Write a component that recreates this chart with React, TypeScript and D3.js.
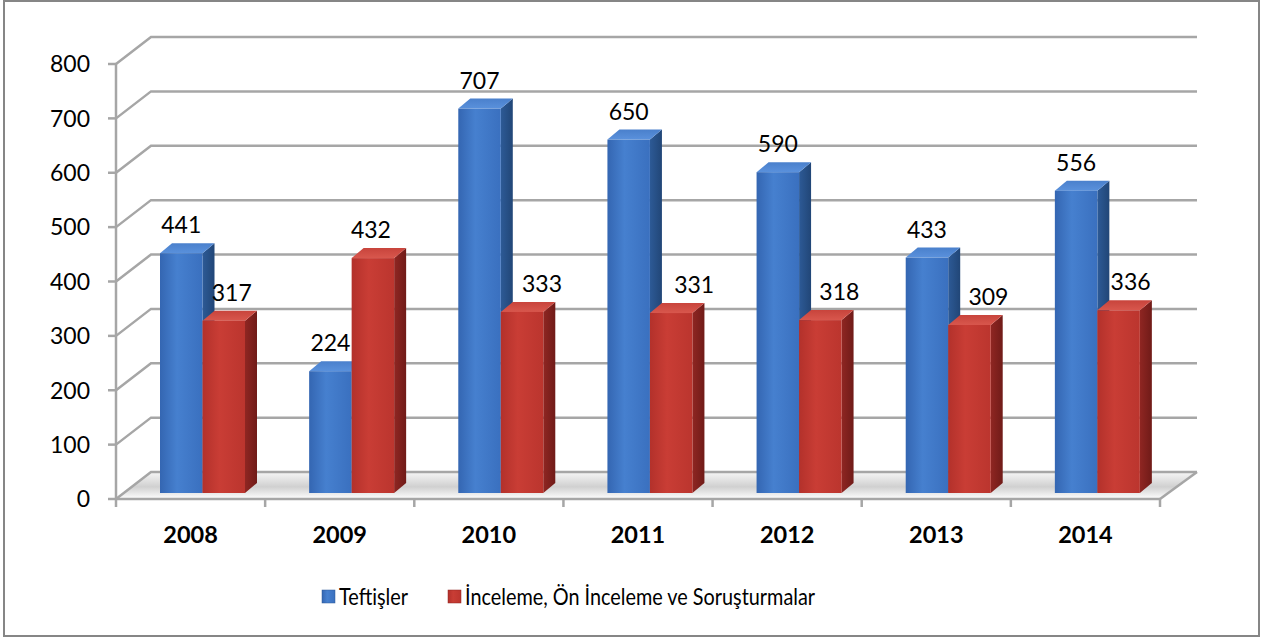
import React from "react";
import * as d3 from "d3";

const years = ["2008", "2009", "2010", "2011", "2012", "2013", "2014"];
const teftisler = [441, 224, 707, 650, 590, 433, 556];
const inceleme = [317, 432, 333, 331, 318, 309, 336];
const yTicks = [0, 100, 200, 300, 400, 500, 600, 700, 800];
const seriesNames = ["Teftişler", "İnceleme, Ön İnceleme ve Soruşturmalar"];

// horizontal nudge of the red value labels, as the original placed them
const redLabelNudge = [8, -2, 20, 23, 19, 19, 12];

const W = 1264;
const H = 639;
const axisLeft = 116;
const axisRight = 1160;
const frontY = 499;
const topY = 64;
const depthX = 35;
const depthY = 27;
const barBase = 493;
const barW = 42.5;
const sideX = 12;
const sideY = 10;
const font = "Lato, 'Open Sans', sans-serif";

const App = () => {
  const y = d3.scaleLinear().domain([0, 800]).range([frontY, topY]);
  const x = d3.scaleBand().domain(years).range([axisLeft, axisRight]);
  const bw = x.bandwidth();
  const barTop = (v: number) => barBase - (frontY - y(v));

  const bar = (x0: number, v: number, kind: "b" | "r") => {
    const x1 = x0 + barW;
    const yt = barTop(v);
    return (
      <g>
        <polygon
          points={`${x1},${yt} ${x1 + sideX},${yt - sideY} ${x1 + sideX},${barBase - sideY} ${x1},${barBase}`}
          fill={`url(#${kind}Side)`}
        />
        <polygon
          points={`${x0},${yt} ${x1},${yt} ${x1 + sideX},${yt - sideY} ${x0 + sideX},${yt - sideY}`}
          fill={`url(#${kind}Top)`}
        />
        <rect x={x0} y={yt} width={barW} height={barBase - yt} fill={`url(#${kind}Front)`} />
      </g>
    );
  };

  return (
    <svg width={W} height={H} style={{ position: "absolute", left: 0, top: 0 }} fontFamily={font}>
      <defs>
        <linearGradient id="bFront" x1="0" x2="1" y1="0" y2="0">
          <stop offset="0" stopColor="#3466b2" />
          <stop offset="0.4" stopColor="#4680cf" />
          <stop offset="1" stopColor="#3a70bf" />
        </linearGradient>
        <linearGradient id="bSide" x1="0" x2="1" y1="0" y2="0">
          <stop offset="0" stopColor="#2d5a96" />
          <stop offset="1" stopColor="#214677" />
        </linearGradient>
        <linearGradient id="bTop" x1="0" x2="0" y1="1" y2="0">
          <stop offset="0" stopColor="#5a91dc" />
          <stop offset="1" stopColor="#4a80cc" />
        </linearGradient>
        <linearGradient id="rFront" x1="0" x2="1" y1="0" y2="0">
          <stop offset="0" stopColor="#b3312b" />
          <stop offset="0.4" stopColor="#c93d35" />
          <stop offset="1" stopColor="#bb352e" />
        </linearGradient>
        <linearGradient id="rSide" x1="0" x2="1" y1="0" y2="0">
          <stop offset="0" stopColor="#8f2622" />
          <stop offset="1" stopColor="#701b18" />
        </linearGradient>
        <linearGradient id="rTop" x1="0" x2="0" y1="1" y2="0">
          <stop offset="0" stopColor="#d8574d" />
          <stop offset="1" stopColor="#c8443c" />
        </linearGradient>
        <linearGradient id="floor" x1="0" x2="0" y1="0" y2="1">
          <stop offset="0" stopColor="#f6f6f6" />
          <stop offset="0.55" stopColor="#d0d0d0" />
          <stop offset="1" stopColor="#ffffff" />
        </linearGradient>
      </defs>

      <rect x={4} y={1} width={1255} height={635} fill="#fff" stroke="#868686" strokeWidth={2} />

      {/* floor */}
      <polygon
        points={`${axisLeft},${frontY} ${axisRight},${frontY} ${axisRight + depthX},${frontY - depthY} ${axisLeft + depthX},${frontY - depthY}`}
        fill="url(#floor)"
      />

      {/* gridlines: side wall + back wall */}
      {yTicks.map((t) => (
        <polyline
          key={t}
          points={`${axisLeft},${y(t)} ${axisLeft + depthX},${y(t) - depthY} ${axisRight + depthX + 2},${y(t) - depthY}`}
          fill="none"
          stroke="#a6a6a6"
          strokeWidth={2.5}
        />
      ))}
      <line x1={axisRight} y1={frontY} x2={axisRight + depthX + 2} y2={frontY - depthY} stroke="#a6a6a6" strokeWidth={2.5} />

      {/* axes */}
      <line x1={axisLeft} y1={topY} x2={axisLeft} y2={frontY} stroke="#a6a6a6" strokeWidth={2.5} />
      <line x1={axisLeft} y1={frontY} x2={axisRight} y2={frontY} stroke="#a6a6a6" strokeWidth={2.5} />
      {yTicks.map((t) => (
        <g key={t}>
          <line x1={axisLeft - 8} y1={y(t)} x2={axisLeft} y2={y(t)} stroke="#a6a6a6" strokeWidth={2.5} />
          <text x={90} y={y(t)} dy="0.36em" textAnchor="end" fontSize={23} fill="#000">
            {t}
          </text>
        </g>
      ))}
      {[...years, "end"].map((yr, i) => (
        <line
          key={yr}
          x1={axisLeft + i * bw}
          y1={frontY}
          x2={axisLeft + i * bw}
          y2={frontY + 8}
          stroke="#a6a6a6"
          strokeWidth={2.5}
        />
      ))}
      {years.map((yr) => (
        <text key={yr} x={(x(yr) as number) + bw / 2} y={543} textAnchor="middle" fontSize={23.5} fontWeight="bold" fill="#000">
          {yr}
        </text>
      ))}

      {/* bars */}
      {years.map((yr, i) => {
        const bx = (x(yr) as number) + 44;
        return (
          <g key={yr}>
            {bar(bx, teftisler[i], "b")}
            {bar(bx + barW, inceleme[i], "r")}
          </g>
        );
      })}

      {/* value labels */}
      {years.map((yr, i) => {
        const bx = (x(yr) as number) + 44;
        return (
          <g key={yr} fontSize={23} fill="#000" textAnchor="middle">
            <text x={bx + barW / 2} y={barTop(teftisler[i]) - 20}>
              {teftisler[i]}
            </text>
            <text x={bx + barW * 1.5 + redLabelNudge[i]} y={barTop(inceleme[i]) - 20}>
              {inceleme[i]}
            </text>
          </g>
        );
      })}

      {/* legend */}
      <rect x={322} y={590} width={13} height={13} fill="url(#bFront)" stroke="#2d5a96" strokeWidth={0.5} />
      <text x={339} y={605} fontSize={24} fill="#000" textLength={69} lengthAdjust="spacingAndGlyphs">
        {seriesNames[0]}
      </text>
      <rect x={448} y={590} width={13} height={13} fill="url(#rFront)" stroke="#8f2622" strokeWidth={0.5} />
      <text x={465} y={605} fontSize={24} fill="#000" textLength={350} lengthAdjust="spacingAndGlyphs">
        {seriesNames[1]}
      </text>
    </svg>
  );
};

export default App;
